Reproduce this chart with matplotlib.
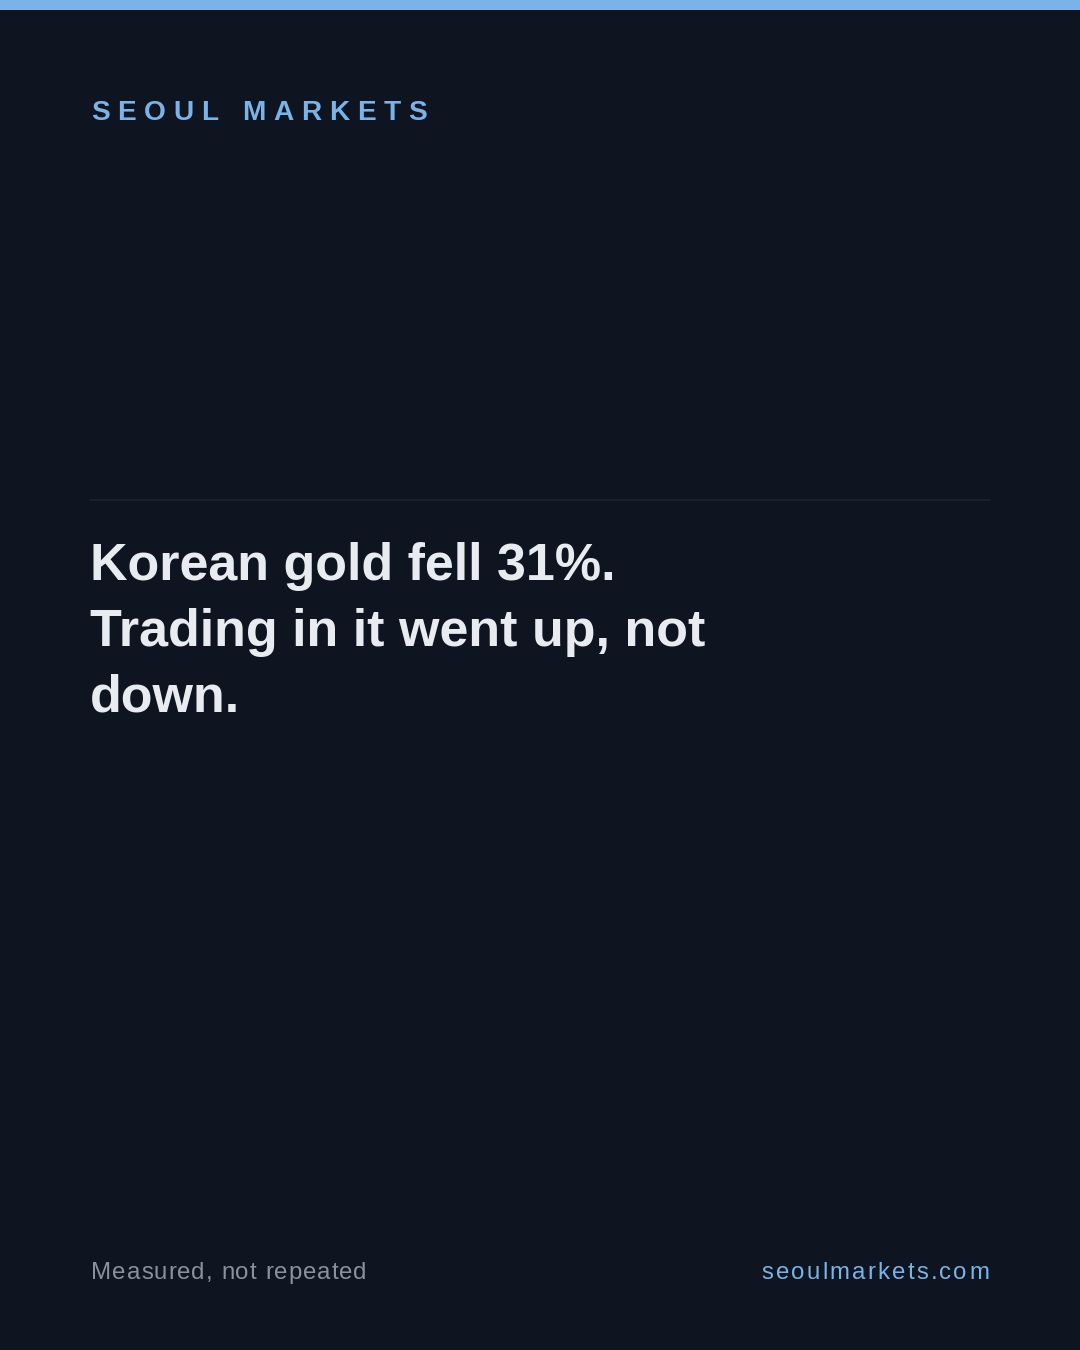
import matplotlib
matplotlib.use("Agg")
import matplotlib.pyplot as plt
from matplotlib.patches import Rectangle

# texts of the card
brand = "SEOUL MARKETS"
headline = ["Korean gold fell 31%.", "Trading in it went up, not", "down."]
tagline = "Measured, not repeated"
site = "seoulmarkets.com"

BG = "#0e1420"
BLUE = "#79b3e7"
WHITE = "#e8ebf0"
GREY = "#8a919d"
RULE = "#1d2430"

plt.rcParams['font.family'] = ['Liberation Sans', 'DejaVu Sans']

W, H = 1080, 1350
fig = plt.figure(figsize=(W / 100, H / 100), dpi=100, facecolor=BG)
ax = fig.add_axes([0, 0, 1, 1])
ax.set_xlim(0, W)
ax.set_ylim(H, 0)
ax.axis('off')
ax.set_facecolor(BG)
r = fig.canvas.get_renderer()


def char_widths(s, px, weight):
    ws = []
    for ch in s:
        t = ax.text(0, 0, ch if ch != " " else "n", fontsize=px * 0.72, fontweight=weight)
        w = t.get_window_extent(renderer=r).width
        t.remove()
        if ch == " ":
            w = px * 0.278
        ws.append(w)
    return ws


def spaced(s, x, y, px, weight, color, gap, right=False):
    ws = char_widths(s, px, weight)
    total = sum(ws) + gap * (len(s) - 1)
    if right:
        x = x - total
    for ch, w in zip(s, ws):
        if ch != " ":
            ax.text(x, y, ch, fontsize=px * 0.72, fontweight=weight, color=color,
                    va='baseline', ha='left')
        x += w + gap


# top accent bar
ax.add_patch(Rectangle((0, 0), W, 10, color=BLUE, lw=0))

# brand, letter spaced
spaced(brand, 91, 120, 28, 'bold', BLUE, 7.8)

# divider
ax.plot([90, 990], [499.5, 499.5], color=RULE, lw=1.2)

# headline
for i, line in enumerate(headline):
    ax.text(90, 580 + i * 66, line, fontsize=52 * 0.72, fontweight='bold',
            color=WHITE, va='baseline', ha='left')

# footer
spaced(tagline, 91, 1279, 24, 'normal', GREY, 1.0)
spaced(site, 989, 1279, 24, 'normal', BLUE, 2.2, right=True)

fig.savefig("out.png", dpi=100, facecolor=BG)
